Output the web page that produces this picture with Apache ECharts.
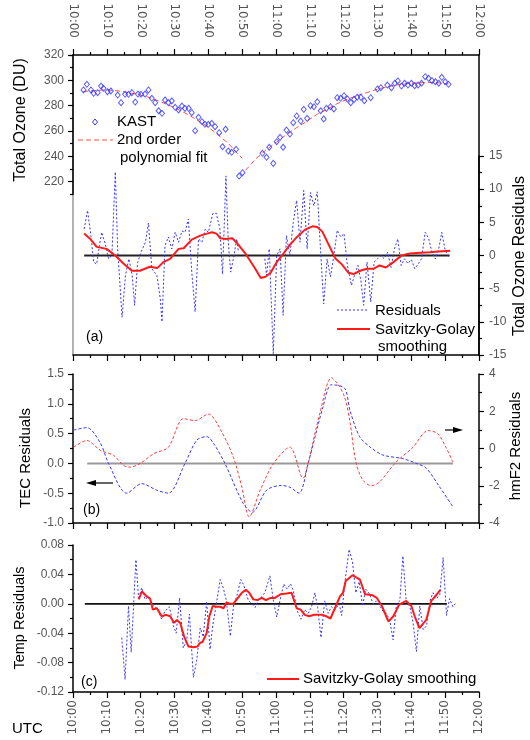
<!DOCTYPE html>
<html>
<head>
<meta charset="utf-8">
<script src="https://cdn.jsdelivr.net/npm/echarts@6/dist/echarts.min.js"></script>
<style>html,body{margin:0;padding:0;background:#fff}#c{width:530px;height:740px}</style>
</head>
<body>
<div id="c"></div>
<script>
// ---------- DATA ----------
const timeLabels = ['10:00','10:10','10:20','10:30','10:40','10:50','11:00','11:10','11:20','11:30','11:40','11:50','12:00'];
const ozTicks = [220,240,260,280,300,320];

// KAST total ozone (minutes after 10:00, DU)
const kastMin = [3.1,4.1,5.3,6.1,7.3,8.3,9.0,10.2,11.2,13.2,14.2,15.4,16.4,17.4,18.4,19.2,20.1,21.3,22.3,23.3,24.3,25.3,26.3,27.2,28.2,29.2,30.2,31.2,32.2,33.1,34.2,35.1,36.1,37.1,38.1,39.0,40.0,41.0,42.0,43.2,44.2,45.1,45.9,46.9,48.2,49.1,50.1,56.0,57.2,58.0,59.2,60.2,61.2,62.1,63.1,64.1,65.1,66.1,67.3,68.2,69.2,70.2,71.2,72.2,73.2,74.1,74.9,76.1,77.1,78.1,79.1,80.1,81.1,82.1,83.1,84.0,85.1,86.1,88.0,90.0,91.0,92.9,94.1,95.1,96.0,97.1,98.0,99.0,100.0,101.0,102.0,103.0,104.1,105.1,106.1,107.1,108.1,109.0,110.0,111.0];
const kastDU = [292.4,296.9,292.4,289.8,290.3,295.5,293.7,291.0,291.6,288.4,282.4,289.0,289.0,290.3,282.9,289.2,289.0,289.2,292.4,285.8,282.4,276.0,274.0,284.5,282.4,283.7,278.7,276.6,279.7,277.9,277.9,274.5,260.3,270.8,267.4,265.3,265.3,266.1,263.4,258.7,247.6,261.4,244.2,243.2,245.6,224.5,227.1,242.4,239.3,247.2,234.5,251.6,255.0,247.2,260.8,257.6,266.6,271.9,267.9,277.1,270.0,280.0,279.2,283.1,276.0,269.5,277.9,279.2,277.4,286.3,285.8,287.9,285.3,282.4,285.0,286.6,286.6,283.9,286.3,293.2,294.2,296.3,294.2,297.7,299.5,295.5,297.7,296.3,297.7,295.8,296.3,297.7,302.9,301.6,299.7,298.9,297.7,302.4,298.9,296.9];

// 2nd order polynomial fit (two branches, gap marked by null)
const fitMin = [3,6,10,14,18,22,26,30,34,38,42,46,50,50.5,51,54,57,60,63,66,69,72,75,78,81,84,87,90,93,96,99,102,105,108,111];
const fitDU  = [291,292,292.5,291.5,289.5,287,283,278.5,273,266.5,259,250,238.5,null,229,238,245,251,257,262.5,267.5,273,277,281.5,285,288,290.5,293,295,296.5,297.5,298,298.3,298,297];

// Total ozone residuals
const resMin = [3.3,4.3,5.3,6.1,7.0,7.8,8.5,9.5,10.5,11.5,12.5,13.2,14.5,15.5,16.5,17.5,18.2,19.1,20.1,21.4,22.3,23.3,24.8,25.8,26.3,27.2,28.2,29.2,30.2,31.2,32.2,33.1,34.1,35.1,36.1,37.1,38.1,39.1,40.0,41.3,42.3,43.4,44.2,45.2,45.9,46.6,47.4,48.4,48.9,52,56.7,57.2,58.0,59.2,60.2,61.2,62.1,63.1,64.1,65.1,66.1,67.1,68.2,69.2,70.2,71.2,72.2,73.2,74.1,75.1,76.1,77.1,78.1,79.1,80.1,81.1,82.3,83.2,84.2,85.1,85.9,86.9,88.0,89,90,91,92,93,94,95,96,97,98,99,100,101,102,103,104.1,105.1,106.1,107.1,108.1,109,110,111];
const resVal = [4.0,6.8,3.0,-1.0,-1.3,1.5,3.5,1.8,-0.5,0,12.6,1.0,-9.3,-3.0,-0.5,-3.0,-7.5,-1.1,0.5,2.0,4.9,-2.0,-3.0,-6.5,-10.0,1.5,2.8,1.0,3.5,2.0,3.7,3.5,5.5,-2.5,-8.5,2.5,2.0,4.0,3.5,6.3,6.4,4.1,-2.8,12.0,2.0,-2.5,-0.5,2.5,0.5,null,-0.5,-3.0,1.0,-14.8,0,1.0,-9.0,3.0,0.0,5.0,8.3,2.0,9.8,1.0,9.5,7.5,9.6,0.5,-7.3,-0.5,-3.2,0,3.8,2.8,3.3,-1.5,-4.5,-3,-1.5,-3.8,-7.5,-1.0,-7.0,-1,-0.5,0,-0.5,0.5,-1.8,1,2.5,-1.5,-0.5,-1.2,-0.6,-2,-1.3,-0.5,3.5,2.6,0.5,-0.5,1,3.5,0.8,-0.2];

// Savitzky-Golay smoothing of ozone residuals
const sgMin = [3.3,5.1,7.0,9.9,12.5,14.9,17.4,19.8,22.7,24.9,26.7,28.7,31.2,32.7,35.1,37.6,39.6,41.1,42.4,43.6,45.1,47.1,48.6,51.1,53.5,55.5,56.9,58.4,60.2,62.2,64.1,66.2,68.6,70.8,72.2,73.7,75.6,77.5,79.4,81.4,82.9,84.9,86.8,88.8,90.6,92.5,94.7,97.1,99.6,102.6,105.5,108,111.5];
const sgVal = [3.3,2.5,1.3,1.0,0,-1.2,-2.3,-2.3,-1.7,-1.9,-1.0,-0.5,1.0,1.1,2.4,3.0,3.3,3.5,3.3,2.6,2.5,2.6,1.8,0.2,-1.7,-3.4,-3.2,-2.6,-1.0,0.3,1.6,2.8,3.9,4.4,4.3,3.6,1.6,-0.4,-1.3,-2.6,-2.8,-2.3,-2.0,-2.0,-1.5,-1.8,-1.0,0,0.3,0.4,0.5,0.6,0.7];

// TEC residuals
const tecMin = [0.2,4.1,8.1,10.5,15.9,20.3,24.8,28.2,33.1,36.6,39.5,41.5,44.9,50.3,53.0,57.2,61.6,64.1,66.8,69.5,73.9,76.4,80.3,81.8,84.7,87.7,91.6,97.5,101.5,104.4,108.3,112.3];
const tecVal = [0.56,0.60,0.34,0,-0.5,-0.34,-0.45,-0.5,0,0.39,0.45,0.34,0,-0.67,-0.82,-0.45,-0.37,-0.4,-0.5,0,0.95,1.32,1.26,0.9,0.45,0.28,0.14,0.08,0,-0.08,-0.39,-0.73];

// hmF2 residuals
const hmMin = [0.2,4.1,8.1,12.0,14.9,16.9,19.9,23.8,28.2,32.6,36.1,40.0,44.0,47.4,49.9,52.1,55.3,59.2,64.1,68.0,69.5,72.9,76.4,78.3,80.3,81.8,83.7,85.7,88.2,90.6,95.1,100.5,104.9,107.8,110.2,112.3];
const hmVal = [0.07,0.43,-0.1,-0.37,-0.9,-1.0,-0.8,-0.28,0.07,1.6,1.5,1.85,0.87,-0.47,-2.07,-3.67,-2.25,-0.82,0.07,-1.6,-0.8,1.85,3.8,3.45,2.75,1.5,-0.8,-1.7,-2.0,-1.8,-0.8,0.07,0.96,0.8,0.07,-0.73];

// Temperature residuals
const tMin = [14.4,15.4,16.4,17.2,18.6,19.4,20.3,21.3,22.3,23.3,24.3,25.2,26.2,27.2,28.5,29.7,30.5,31.5,32.6,33.6,34.4,35.6,36.6,37.6,38.5,39.5,40.5,41.3,42.3,43.5,44.4,45.3,46.5,47.5,48.4,49.6,50.5,51.8,52.8,53.8,54.8,55.8,56.7,58.2,59.2,60.2,61.2,62.3,63.3,64.3,65.1,66.3,67.4,68.5,69.5,70.5,71.5,72.3,73.3,74.4,75.4,76.4,77.4,78.7,79.4,80.3,81.6,82.6,83.6,84.6,85.6,86.5,87.7,88.7,89.6,90.6,91.6,92.6,93.6,94.6,95.6,96.6,97.5,98.5,99.5,100.5,101.5,102.5,103.5,104.5,105.5,106.4,107.4,108.4,109.4,110.4,111.3,112.3,113];
const tVal = [-0.046,-0.103,-0.003,-0.066,0.06,0.006,0.022,0.006,0.01,0,-0.004,-0.01,-0.021,-0.01,-0.004,-0.03,-0.04,0.008,-0.06,-0.05,-0.014,-0.1,-0.076,-0.033,-0.045,0.003,-0.062,-0.03,-0.002,0.033,0.022,0.005,-0.044,0,0.01,0.033,0.025,0.005,0,-0.005,0.005,0.01,0.015,0.038,0.005,-0.018,0.005,0.027,0.02,0.027,0.018,-0.01,-0.021,-0.008,-0.013,-0.004,0.015,-0.005,-0.046,0.004,-0.013,-0.004,-0.008,0,-0.016,0.027,0.074,0.057,0.015,0.03,-0.003,0.02,0.013,0,0.004,-0.002,-0.01,-0.013,-0.022,-0.049,0,0.004,0.065,0.002,-0.003,-0.025,-0.065,-0.003,-0.035,-0.03,0.004,0.015,0.007,0.012,0.063,-0.016,0.007,-0.004,0];

// Savitzky-Golay smoothing of temperature residuals
const tsMin = [19.4,20.4,21.8,22.8,23.6,24.8,26.2,27.5,28.7,29.9,30.7,31.7,32.8,34.1,35.6,36.8,37.6,38.3,39.5,40.3,41.3,42.5,43.5,44.5,45.4,46.4,47.4,48.4,49.9,51.1,52.1,53.3,54.5,55.8,57,58.4,59.7,61.3,63.1,64.6,66.1,67.3,68.5,69.8,71.2,72.4,73.7,74.9,76.1,77.7,78.9,79.8,80.6,82.6,84.8,86.3,88.3,89.8,91.3,93.2,94.7,96.4,98.5,100,101,102.4,104.4,105.9,107.4,108.6];
const tsVal = [0.006,0.017,0.01,0.007,-0.008,-0.006,-0.017,-0.015,-0.017,-0.026,-0.022,-0.026,-0.044,-0.058,-0.059,-0.058,-0.053,-0.052,-0.04,-0.017,-0.003,-0.004,-0.004,-0.006,0.002,0,0,0.006,0.015,0.019,0.015,0.006,0.005,0.008,0.005,0.008,0.008,0.013,0.014,0.015,-0.006,-0.008,-0.015,-0.017,-0.015,-0.015,-0.015,-0.017,-0.02,-0.003,0.01,0.015,0.031,0.039,0.033,0.013,0.012,0.008,-0.003,-0.024,-0.017,-0.001,0.004,-0.003,-0.017,-0.033,-0.022,0.004,0.012,0.019];

// zero reference line spans (minutes)
const zeroSpanA = [3.3, 111.3];
const zeroSpanB = [4.2, 112.3];
const zeroSpanC = [3.5, 110.5];

// ---------- CHART ----------
const zip = (xs, ys) => xs.map((x, i) => [x, ys[i]]);
const FONT = '"Liberation Sans", Arial, sans-serif';
const BLUE = '#3535ff', RED = '#ff1a1a';
const lblStyle = { color: '#555', fontSize: 12, fontFamily: FONT };
const axLine = (color) => ({ show: true, onZero: false, lineStyle: { color: color || '#000', width: 1.5 } });
const noLine = { show: false, onZero: false };
const tick = (len) => ({ show: true, length: len, lineStyle: { color: '#000', width: 1.2 } });
const minor = { show: true, splitNumber: 2, length: 3, lineStyle: { color: '#000', width: 1.2 } };
const off = { show: false };
const timeFmt = v => { const i = Math.round(v / 10); return timeLabels[i] !== undefined ? timeLabels[i] : ''; };

const L = 73, R = 51;
const grids = [
  { left: L, right: R, top: 55, height: 300 },      // 0 frame (a)
  { left: L, right: R, top: 55, height: 139.4 },    // 1 ozone
  { left: L, right: R, top: 156, height: 199 },     // 2 residuals (a)
  { left: L, right: R, top: 374, height: 149 },     // 3 panel (b)
  { left: L, right: R, top: 545, height: 147 }      // 4 panel (c)
];

const xBase = { type: 'value', min: 0, max: 120, interval: 10, splitLine: off };
const hiddenX = (g) => ({ type: 'value', gridIndex: g, min: 0, max: 120, show: false,
  axisLine: noLine, axisTick: off, minorTick: off, axisLabel: off, splitLine: off });
const xLbl = (margin) => ({ rotate: 90, margin, formatter: timeFmt, color: '#555', fontSize: 12, fontFamily: '"DejaVu Sans", sans-serif' });
const xAxes = [
  Object.assign({}, xBase, { gridIndex: 0, position: 'top', axisLine: axLine(), axisTick: tick(6), minorTick: minor, axisLabel: xLbl(17) }),
  Object.assign({}, xBase, { gridIndex: 0, position: 'bottom', axisLine: axLine(), axisTick: tick(6), minorTick: minor, axisLabel: off }),
  hiddenX(1),
  hiddenX(2),
  Object.assign({}, xBase, { gridIndex: 3, position: 'bottom', axisLine: axLine(), axisTick: tick(6), minorTick: minor, axisLabel: off }),
  Object.assign({}, xBase, { gridIndex: 4, position: 'bottom', axisLine: axLine(), axisTick: tick(6), minorTick: minor, axisLabel: xLbl(8) })
];

const yAxes = [
  { gridIndex: 0, type: 'value', min: 0, max: 1, position: 'left', axisLine: axLine('#999'), axisTick: off, minorTick: off, axisLabel: off, splitLine: off },
  { gridIndex: 0, type: 'value', min: 0, max: 1, position: 'right', axisLine: axLine(), axisTick: off, minorTick: off, axisLabel: off, splitLine: off },
  { gridIndex: 1, type: 'value', min: 210, max: 320, position: 'left', axisLine: axLine(),
    axisTick: { show: true, length: 5, customValues: ozTicks, lineStyle: { color: '#000', width: 1.2 } },
    axisLabel: Object.assign({ customValues: ozTicks, margin: 9 }, lblStyle), minorTick: off, splitLine: off },
  // minor ticks of the ozone axis: counted from min 210 every 20 -> 210, 230, ... 310
  { gridIndex: 1, type: 'value', min: 210, max: 320, interval: 20, position: 'left', axisLine: noLine,
    axisTick: { show: true, length: 3, lineStyle: { color: '#000', width: 1.2 } },
    axisLabel: off, minorTick: off, splitLine: off },
  { gridIndex: 2, type: 'value', min: -15, max: 15, interval: 5, position: 'right', axisLine: axLine(),
    axisTick: tick(5), minorTick: minor, axisLabel: Object.assign({ margin: 10 }, lblStyle), splitLine: off },
  { gridIndex: 3, type: 'value', min: -1, max: 1.5, interval: 0.5, position: 'left', axisLine: axLine(),
    axisTick: tick(5), minorTick: minor, axisLabel: Object.assign({ margin: 9, formatter: v => v.toFixed(1) }, lblStyle), splitLine: off },
  { gridIndex: 3, type: 'value', min: -4, max: 4, interval: 2, position: 'right', axisLine: axLine(),
    axisTick: tick(5), minorTick: minor, axisLabel: Object.assign({ margin: 10 }, lblStyle), splitLine: off },
  { gridIndex: 4, type: 'value', min: -0.12, max: 0.08, interval: 0.04, position: 'left', axisLine: axLine(),
    axisTick: tick(5), minorTick: minor, axisLabel: Object.assign({ margin: 9, formatter: v => Math.abs(v) < 1e-9 ? '0.00' : v.toFixed(2) }, lblStyle), splitLine: off }
];

const lineS = (name, xi, yi, data, color, width, type, z) => ({
  name, type: 'line', xAxisIndex: xi, yAxisIndex: yi, data, showSymbol: false, symbol: 'none',
  connectNulls: false, lineStyle: { color, width, type }, z: z || 2, animation: false
});

const series = [
  { name: 'KAST', type: 'scatter', xAxisIndex: 2, yAxisIndex: 2, data: zip(kastMin, kastDU), symbol: 'diamond', symbolSize: [5, 6],
    itemStyle: { color: 'rgba(255,255,255,0)', borderColor: BLUE, borderWidth: 1 }, z: 4, animation: false },
  lineS('2nd order polynomial fit', 2, 2, zip(fitMin, fitDU), '#ff4d4d', 1, [5, 3], 3),
  lineS('zeroA', 3, 4, zeroSpanA.map(m => [m, 0]), '#222', 1.8, 'solid', 1),
  lineS('Residuals', 3, 4, zip(resMin, resVal), BLUE, 1, [2, 2], 2),
  lineS('Savitzky-Golay smoothing', 3, 4, zip(sgMin, sgVal), RED, 2, 'solid', 3),
  lineS('zeroB', 4, 5, zeroSpanB.map(m => [m, 0]), '#999', 2, 'solid', 1),
  lineS('TEC Residuals', 4, 5, zip(tecMin, tecVal), BLUE, 1, [3, 2], 2),
  lineS('hmF2 Residuals', 4, 6, zip(hmMin, hmVal), '#ff3b3b', 1, [3, 2], 2),
  lineS('zeroC', 5, 7, zeroSpanC.map(m => [m, 0]), '#111', 1.8, 'solid', 1),
  lineS('Temp Residuals', 5, 7, zip(tMin, tVal), BLUE, 1, [2, 2], 2),
  lineS('Temp Savitzky-Golay smoothing', 5, 7, zip(tsMin, tsVal), RED, 2, 'solid', 3)
];
series[6].smooth = 0.3;
series[7].smooth = 0.3;

const txt = (text, x, y, size, opts) => Object.assign({
  type: 'text', x, y, style: { text, fill: '#000', font: size + 'px ' + FONT, textAlign: 'left', textVerticalAlign: 'middle' }, z: 10
}, opts || {});
const vtxt = (text, x, y, size) => ({
  type: 'text', x, y, rotation: Math.PI / 2,
  style: { text, fill: '#000', font: size + 'px ' + FONT, textAlign: 'center', textVerticalAlign: 'middle' }, z: 10
});
const seg = (x1, y1, x2, y2, stroke, lineWidth, lineDash) => ({
  type: 'line', shape: { x1, y1, x2, y2 }, style: { stroke, lineWidth, lineDash }, z: 10
});

const graphic = [
  vtxt('Total Ozone (DU)', 21, 120, 16),
  vtxt('Total Ozone Residuals', 520, 256, 16),
  vtxt('TEC Residuals', 26, 458, 15),
  vtxt('hmF2 Residuals', 516, 446, 15),
  vtxt('Temp Residuals', 20, 618, 14.5),
  txt('UTC', 12, 729, 15),
  // legend (a) top
  { type: 'polygon', shape: { points: [[95, 119], [97.5, 122], [95, 125], [92.5, 122]] }, style: { fill: 'none', stroke: BLUE, lineWidth: 1 }, z: 10 },
  txt('KAST', 117, 122, 15),
  seg(78, 140, 113, 140, '#ff4d4d', 1, [5, 3]),
  txt('2nd order', 117, 140, 15),
  txt('polynomial fit', 120, 158, 15),
  // legend (a) bottom
  seg(337, 310, 369, 310, BLUE, 1, [2, 2]),
  txt('Residuals', 375, 311, 15),
  seg(337, 329, 370, 329, RED, 2),
  txt('Savitzky-Golay', 375, 330, 15),
  txt('smoothing', 378, 347, 15),
  // panel labels
  txt('(a)', 86, 337, 14),
  txt('(b)', 83, 510, 14),
  txt('(c)', 81, 682, 14),
  // arrows (b)
  seg(95, 483, 113, 483, '#000', 1.2),
  { type: 'polygon', shape: { points: [[86, 483], [96, 480], [96, 486]] }, style: { fill: '#000' }, z: 10 },
  seg(445, 430, 455, 430, '#000', 1.2),
  { type: 'polygon', shape: { points: [[463, 430], [453, 427], [453, 433]] }, style: { fill: '#000' }, z: 10 },
  // legend (c)
  seg(267, 679, 299, 679, RED, 2),
  txt('Savitzky-Golay smoothing', 303, 679, 15)
];

const chart = echarts.init(document.getElementById('c'), null, { renderer: 'canvas' });
chart.setOption({
  animation: false,
  backgroundColor: '#fff',
  grid: grids,
  xAxis: xAxes,
  yAxis: yAxes,
  series,
  graphic
});
</script>
</body>
</html>
